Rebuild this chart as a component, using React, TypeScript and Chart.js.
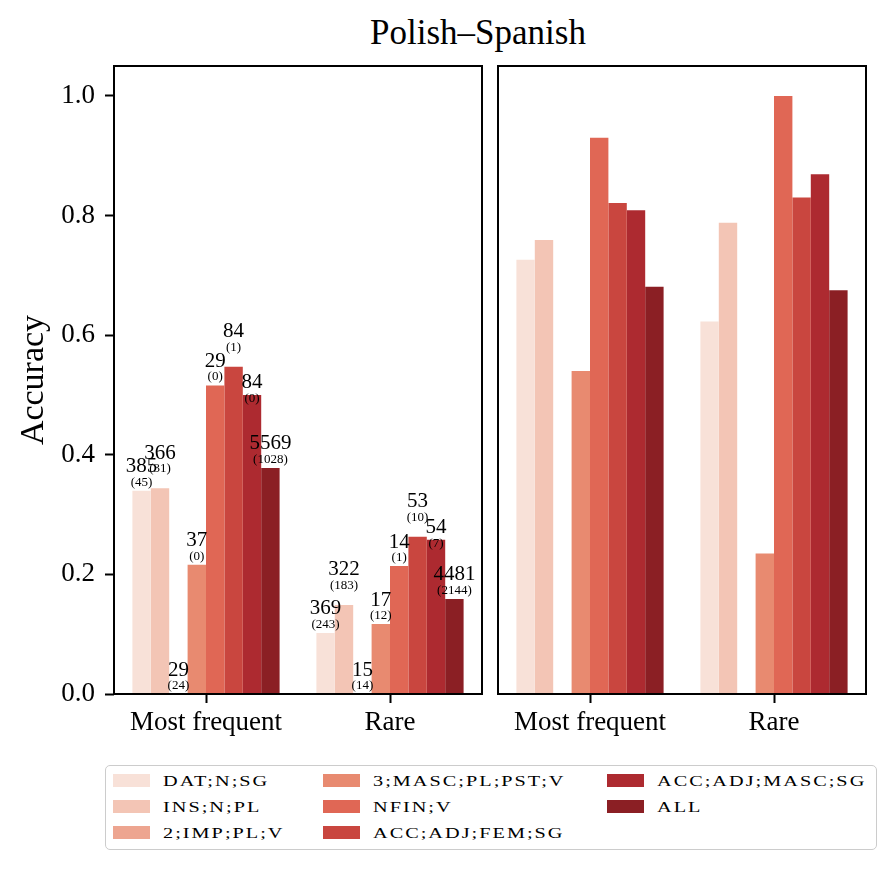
import { useEffect, useRef } from "react";
import { Chart, registerables } from "chart.js";

Chart.register(...registerables);

// groups on the x axis, one bar per feature
const groups = ["Most frequent", "Rare"];
const features = [
  "DAT;N;SG",
  "INS;N;PL",
  "2;IMP;PL;V",
  "3;MASC;PL;PST;V",
  "NFIN;V",
  "ACC;ADJ;FEM;SG",
  "ACC;ADJ;MASC;SG",
  "ALL",
];
const colors = [
  "#f8e1d8",
  "#f3c5b5",
  "#eda590",
  "#e88a70",
  "#e06755",
  "#c9463f",
  "#ad2a30",
  "#8b1f24",
];

// accuracy, left panel
const leftMostFrequent = [0.34, 0.344, 0, 0.216, 0.516, 0.547, 0.5, 0.378];
const leftRare = [0.102, 0.149, 0, 0.117, 0.214, 0.263, 0.258, 0.159];
// accuracy, right panel
const rightMostFrequent = [0.726, 0.759, 0, 0.54, 0.93, 0.821, 0.809, 0.681];
const rightRare = [0.623, 0.788, 0, 0.235, 1.0, 0.83, 0.869, 0.675];

// numbers printed over the left panel bars
const countsMostFrequent = [385, 366, 29, 37, 29, 84, 84, 5569];
const missMostFrequent = [45, 31, 24, 0, 0, 1, 0, 1028];
const countsRare = [369, 322, 15, 17, 14, 53, 54, 4481];
const missRare = [243, 183, 14, 12, 1, 10, 7, 2144];

const yTicks = [0, 0.2, 0.4, 0.6, 0.8, 1.0];

// px the labels are moved up (they were spread apart in the original)
const labelNudge = [0, 11, 0, 0, 0, 11, -12, 0];

const SERIF = '"Liberation Serif", "Times New Roman", serif';

const frame = {
  id: "frame",
  afterDraw(chart: any) {
    const { left, top, right, bottom } = chart.chartArea;
    const ctx = chart.ctx;
    ctx.save();
    ctx.strokeStyle = "#000";
    ctx.lineWidth = 2;
    ctx.strokeRect(left, top, right - left, bottom - top);
    ctx.restore();
  },
};

const countLabels = {
  id: "countLabels",
  afterDatasetsDraw(chart: any) {
    const ctx = chart.ctx;
    ctx.save();
    ctx.textAlign = "center";
    ctx.textBaseline = "alphabetic";
    ctx.fillStyle = "#000";
    features.forEach((_, i) => {
      const meta = chart.getDatasetMeta(i);
      meta.data.forEach((bar: any, j: number) => {
        const count = j === 0 ? countsMostFrequent[i] : countsRare[i];
        const miss = j === 0 ? missMostFrequent[i] : missRare[i];
        const y = bar.y - labelNudge[i];
        ctx.font = `21px ${SERIF}`;
        ctx.fillText(String(count), bar.x, y - 18.5);
        ctx.font = `13px ${SERIF}`;
        ctx.fillText(`(${miss})`, bar.x, y - 5);
      });
    });
    ctx.restore();
  },
};

interface PanelProps {
  mostFrequent: number[];
  rare: number[];
  withAxis: boolean;
}

const Panel = ({ mostFrequent, rare, withAxis }: PanelProps) => {
  const canvasRef = useRef<HTMLCanvasElement>(null);

  useEffect(() => {
    if (!canvasRef.current) return;

    const chart = new Chart(canvasRef.current, {
      type: "bar",
      data: {
        labels: groups,
        datasets: features.map((f, i) => ({
          label: f,
          data: [mostFrequent[i], rare[i]],
          backgroundColor: colors[i],
          borderWidth: 0,
          categoryPercentage: 0.8,
          barPercentage: 1.0,
        })),
      },
      options: {
        animation: false,
        responsive: true,
        maintainAspectRatio: false,
        layout: {
          padding: withAxis
            ? { top: 66, right: 8, bottom: 16, left: 0 }
            : { top: 66, right: 30, bottom: 16, left: 8 },
        },
        plugins: {
          legend: { display: false },
          tooltip: { enabled: false },
        },
        scales: {
          x: {
            offset: true,
            border: { display: false },
            grid: {
              offset: false,
              drawOnChartArea: false,
              drawTicks: true,
              tickLength: 9,
              tickWidth: 2,
              tickColor: "#000",
            },
            ticks: {
              color: "#000",
              padding: 4,
              maxRotation: 0,
              minRotation: 0,
              autoSkip: false,
              font: { family: SERIF, size: 27 },
            },
            afterFit: (scale: any) => {
              scale.height = 50;
              scale.paddingLeft = 0;
              scale.paddingRight = 0;
            },
          },
          y: {
            display: withAxis,
            min: 0,
            max: 1.05,
            border: { display: false },
            grid: {
              drawOnChartArea: false,
              drawTicks: true,
              tickLength: 9,
              tickWidth: 2,
              tickColor: "#000",
            },
            ticks: {
              stepSize: 0.2,
              color: "#000",
              padding: 10,
              font: { family: SERIF, size: 27 },
              callback: (v: any) => Number(v).toFixed(1),
            },
            afterBuildTicks: (scale: any) => {
              scale.ticks = yTicks.map((v) => ({ value: v }));
            },
            afterFit: (scale: any) => {
              scale.width = withAxis ? 114 : 0;
            },
            title: {
              display: true,
              text: "Accuracy",
              color: "#000",
              padding: { top: 14, bottom: 0 },
              font: { family: SERIF, size: 34 },
            },
          },
        },
      },
      plugins: withAxis ? [frame, countLabels] : [frame],
    });

    return () => chart.destroy();
  }, [mostFrequent, rare, withAxis]);

  return <canvas ref={canvasRef}></canvas>;
};

const legendColumns = [
  [0, 1, 2],
  [3, 4, 5],
  [6, 7],
];
const columnLeft = [6.5, 216.5, 500.5];

const App = () => {
  return (
    <div
      style={{
        position: "fixed",
        left: 0,
        top: 0,
        width: 896,
        height: 870,
        background: "#fff",
        fontFamily: SERIF,
        color: "#000",
      }}
    >
      <div
        style={{
          position: "absolute",
          left: 478,
          top: 15,
          transform: "translateX(-50%)",
          whiteSpace: "nowrap",
          fontSize: 35,
          lineHeight: "35px",
        }}
      >
        Polish–Spanish
      </div>

      <div style={{ position: "absolute", left: 0, top: 0, width: 490, height: 760 }}>
        <Panel mostFrequent={leftMostFrequent} rare={leftRare} withAxis={true} />
      </div>
      <div style={{ position: "absolute", left: 490, top: 0, width: 406, height: 760 }}>
        <Panel mostFrequent={rightMostFrequent} rare={rightRare} withAxis={false} />
      </div>

      <div
        style={{
          position: "absolute",
          left: 105,
          top: 765,
          width: 772,
          height: 85,
          boxSizing: "border-box",
          border: "1.5px solid #cccccc",
          borderRadius: 5,
          background: "#fff",
        }}
      >
        {legendColumns.map((col, c) =>
          col.map((idx, r) => (
            <div
              key={idx}
              style={{
                position: "absolute",
                left: columnLeft[c],
                top: 14 + r * 26 - 10,
                height: 20,
                display: "flex",
                alignItems: "center",
                whiteSpace: "nowrap",
              }}
            >
              <span
                style={{
                  display: "inline-block",
                  width: 37,
                  height: 13,
                  background: colors[idx],
                  marginRight: 13,
                }}
              />
              <span
                style={{
                  display: "inline-block",
                  fontSize: 15,
                  letterSpacing: "1.5px",
                  transform: "scaleX(1.35)",
                  transformOrigin: "left center",
                  marginTop: 3,
                }}
              >
                {features[idx]}
              </span>
            </div>
          ))
        )}
      </div>
    </div>
  );
};

export default App;
